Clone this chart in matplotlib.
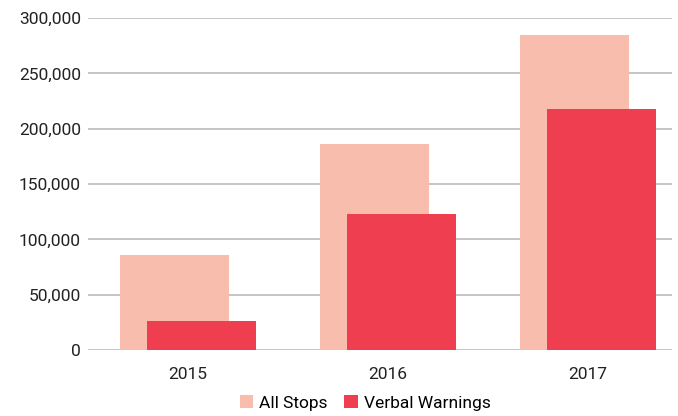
import numpy as np
import matplotlib.pyplot as plt
from matplotlib.ticker import FuncFormatter

plt.rcParams['font.family'] = ['Roboto', 'DejaVu Sans']

years = ['2015', '2016', '2017']
all_stops = [86000, 186000, 285000]
verbal_warnings = [26000, 123000, 218000]

c_all = '#F9BDAD'
c_verbal = '#EF3E4F'

fig = plt.figure(figsize=(6.78, 4.16), dpi=100)
ax = fig.add_axes([88 / 678, 66 / 416, (672 - 88) / 678, (350 - 18) / 416])

x = np.arange(len(years))
w = 0.545
off = 0.068
ax.bar(x - off, all_stops, width=w, color=c_all, label='All Stops', zorder=2)
ax.bar(x + off, verbal_warnings, width=w, color=c_verbal, label='Verbal Warnings', zorder=3)

ax.set_xlim(-0.5, 2.42)
ax.set_ylim(0, 300000)
ax.set_yticks(np.arange(0, 300001, 50000))
ax.yaxis.set_major_formatter(FuncFormatter(lambda v, p: f'{int(v):,}'))
ax.set_xticks(x)
ax.set_xticklabels(years)
ax.grid(axis='y', color='#bbbbbb', linewidth=1.2, zorder=0)
ax.set_axisbelow(True)
for s in ax.spines.values():
    s.set_visible(False)
ax.tick_params(axis='both', length=0, labelsize=12.5, colors='#222222')
ax.tick_params(axis='x', pad=12)
ax.tick_params(axis='y', pad=5)

fig.legend(loc='center', bbox_to_anchor=(365 / 678, 1 - 403 / 416), ncol=2,
           frameon=False, fontsize=12.5, handlelength=0.8, handleheight=0.8,
           handletextpad=0.3, columnspacing=1.0)

fig.savefig('out.png', dpi=100)
